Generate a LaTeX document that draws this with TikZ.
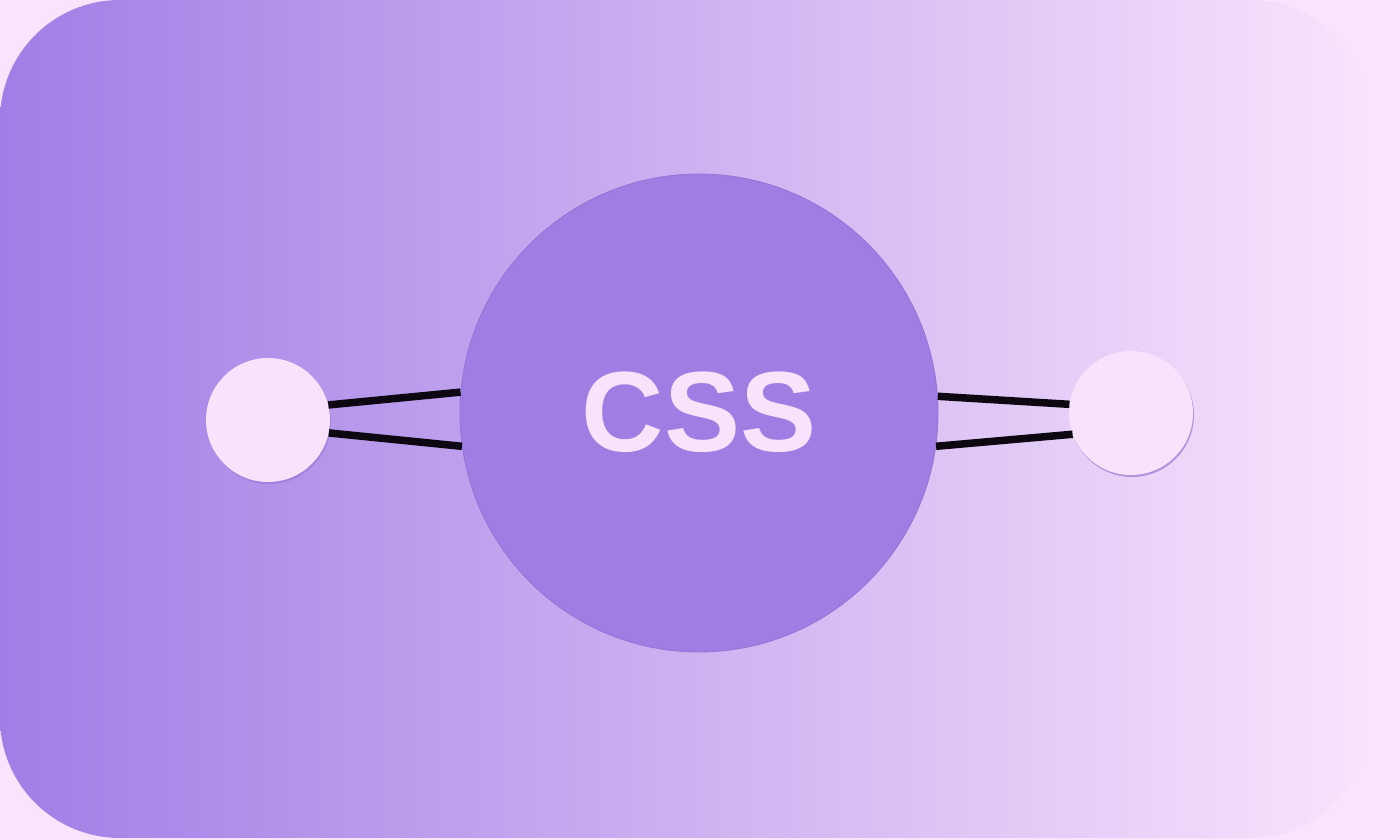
\documentclass[tikz,border=0pt]{standalone}
\usepackage{fontspec}
\setmainfont{Liberation Sans}
\definecolor{bgout}{HTML}{F8E4FC}
\definecolor{gleft}{HTML}{A07EE6}
\definecolor{gright}{HTML}{F8E4FC}
\definecolor{hub}{HTML}{A07DE3}
\definecolor{hubedge}{HTML}{9474D6}
\definecolor{dotfill}{HTML}{F8E2FC}
\definecolor{dotedge}{HTML}{9A7AD8}
\definecolor{linkcol}{HTML}{0C0710}
\begin{document}
\begin{tikzpicture}[x=1pt,y=1pt,
  hubnode/.style={circle,fill=hub,minimum size=478pt,inner sep=0pt,draw=hubedge,line width=0.8pt},
  dotnode/.style={circle,fill=dotfill,minimum size=124pt,inner sep=0pt},
  link/.style={line width=7.5pt,linkcol},
  shadowdot/.style={circle,fill=dotedge,minimum size=124pt,inner sep=0pt,opacity=0.7}
]
\useasboundingbox (0,0) rectangle (1400,840);
\fill[bgout] (0,0) rectangle (1400,840);
\shade[left color=gleft,right color=gright,rounded corners=120pt] (0,2) rectangle (1370,840);
% shadows of small circles
\node[shadowdot] at (269,418) {};
\node[shadowdot] at (1132,425) {};
% nodes
\node[hubnode] (C) at (699,427) {};
\node[dotnode] (L) at (268,420) {};
\node[dotnode] (R) at (1131,427) {};
\node[text=dotfill,anchor=base,inner sep=0pt,font=\bfseries\fontsize{114}{114}\selectfont] (T) at (699,388) {CSS};
% connectors
\draw[link] (L.14) -- (C.175.4);
\draw[link] (L.-12) -- (C.188);
\draw[link] (C.4.8) -- (R.172);
\draw[link] (C.-8.2) -- (R.200.8);
\end{tikzpicture}
\end{document}
